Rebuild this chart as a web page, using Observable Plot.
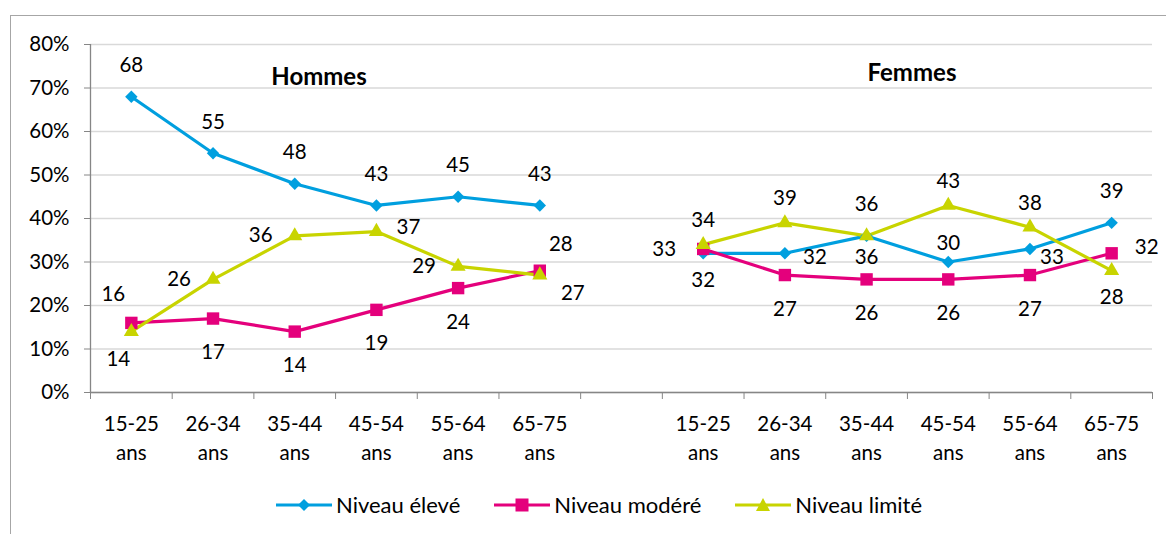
<!DOCTYPE html>
<html><head><meta charset="utf-8">
<script src="https://cdn.jsdelivr.net/npm/d3@7"></script>
<script src="https://cdn.jsdelivr.net/npm/@observablehq/plot@0.6"></script>
<style>
html,body{margin:0;padding:0;background:#fff;overflow:hidden;}
#wrap{position:relative;width:1166px;height:534px;font-family:Lato,"Open Sans",sans-serif;color:#000;}
#frame{position:absolute;left:10px;top:15px;width:1200px;height:600px;border:1px solid #a6a6a6;box-sizing:border-box;}
#chart{position:absolute;left:0;top:0;}
.title{position:absolute;font-weight:bold;font-size:24px;transform:translate(-50%,-50%);white-space:nowrap;}
#legend{position:absolute;top:491px;left:275px;display:flex;align-items:center;font-size:22px;white-space:nowrap;}
#legend .item{display:flex;align-items:center;margin-right:33px;}
#legend svg{display:block;margin-right:3px;}
</style></head>
<body><div id="wrap"><div id="frame"></div><div id="chart"></div>
<div class="title" id="tH"></div><div class="title" id="tF"></div>
<div id="legend"></div></div>
<script>
// ---- data ----
const groups = ["Hommes", "Femmes"];
const ageLabels = ["15-25 ans", "26-34 ans", "35-44 ans", "45-54 ans", "55-64 ans", "65-75 ans"];
const seriesNames = ["Niveau élevé", "Niveau modéré", "Niveau limité"];
const eleveHommes = [68, 55, 48, 43, 45, 43];
const modereHommes = [16, 17, 14, 19, 24, 28];
const limiteHommes = [14, 26, 36, 37, 29, 27];
const eleveFemmes = [32, 32, 36, 30, 33, 39];
const modereFemmes = [33, 27, 26, 26, 27, 32];
const limiteFemmes = [34, 39, 36, 43, 38, 28];
const yTicks = [0, 10, 20, 30, 40, 50, 60, 70, 80];

// ---- styling ----
const colors = {"Niveau élevé": "#009fdf", "Niveau modéré": "#e4007c", "Niveau limité": "#c8d400"};
const symbols = {"Niveau élevé": "diamond2", "Niveau modéré": "square", "Niveau limité": "triangle"};
const symR = {"Niveau élevé": 5.6, "Niveau modéré": 7.0, "Niveau limité": 5.6};
// data-label placement codes (Excel-like)
const offsets = {
  t: [0, -31], t2: [0, -24], t3: [0, -19], b: [0, 34], b2: [0, 27], b3: [0, 22],
  bl: [-13, 28], tl: [-18, -28], tr: [21, -26], l: [-34, 0], l2: [-39, 0],
  r: [32, -4], r2: [30, 4], r3: [22, 8], r4: [35, -6], br: [33, 18]
};
const labelPlacement = {
  Hommes: {
    "Niveau élevé": ["t", "t", "t", "t", "t", "t"],
    "Niveau modéré": ["tl", "b", "b", "b", "b", "tr"],
    "Niveau limité": ["bl", "l", "l", "r", "l", "br"]
  },
  Femmes: {
    "Niveau élevé": ["b2", "r2", "b3", "t3", "r3", "t"],
    "Niveau modéré": ["l2", "b", "b", "b", "b", "r4"],
    "Niveau limité": ["t2", "t2", "t", "t2", "t2", "b2"]
  }
};

const values = {
  Hommes: {"Niveau élevé": eleveHommes, "Niveau modéré": modereHommes, "Niveau limité": limiteHommes},
  Femmes: {"Niveau élevé": eleveFemmes, "Niveau modéré": modereFemmes, "Niveau limité": limiteFemmes}
};
const slotsPerGroup = ageLabels.length + 1; // one empty slot between groups
const nSlots = groups.length * slotsPerGroup - 1;
const data = [];
groups.forEach((g, gi) => {
  seriesNames.forEach(s => {
    values[g][s].forEach((v, i) => {
      data.push({group: g, series: s, age: ageLabels[i], slot: gi * slotsPerGroup + i + 0.5, value: v,
                 key: g + "|" + s, code: labelPlacement[g][s][i]});
    });
  });
});
const centers = [], centerLabel = new Map();
groups.forEach((g, gi) => ageLabels.forEach((a, i) => {
  const c = gi * slotsPerGroup + i + 0.5; centers.push(c); centerLabel.set(c, a.replace(" ", "\n"));
}));

const FS = 20.5;
const marks = [
  Plot.gridY(yTicks, {stroke: "#d9d9d9", strokeOpacity: 1, strokeWidth: 1.3}),
  Plot.axisY(yTicks, {tickFormat: d => d + "%", tickSize: 6, tickPadding: 15, fontSize: FS, stroke: "#868686", label: null}),
  Plot.ruleX([0], {stroke: "#868686", strokeWidth: 1.3}),
  Plot.ruleY([0], {stroke: "#868686", strokeWidth: 1.3}),
  Plot.axisX(d3.range(0, nSlots + 1), {tickSize: 7, tickFormat: () => "", stroke: "#868686", label: null}),
  Plot.axisX(centers, {tickSize: 0, tickPadding: 18, tickFormat: d => centerLabel.get(d), fontSize: FS, lineHeight: 1.41, label: null}),
  Plot.line(data, {x: "slot", y: "value", z: "key", stroke: d => colors[d.series], strokeWidth: 3.2, curve: "linear"})
];
seriesNames.forEach(s => {
  marks.push(Plot.dot(data.filter(d => d.series === s), {x: "slot", y: "value", symbol: () => symbols[s], fill: colors[s], stroke: "none", r: symR[s]}));
});
Object.entries(offsets).forEach(([code, [dx, dy]]) => {
  const sub = data.filter(d => d.code === code);
  if (sub.length) marks.push(Plot.text(sub, {x: "slot", y: "value", text: d => String(d.value), dx, dy, fontSize: FS, fill: "#000"}));
});

const chart = Plot.plot({
  width: 1166, height: 480,
  marginLeft: 90, marginRight: 14, marginTop: 44, marginBottom: 88,
  x: {domain: [0, nSlots], axis: null},
  y: {domain: [0, 80], axis: null},
  style: {fontFamily: "Lato, 'Open Sans', sans-serif", fontSize: FS + "px", background: "transparent", color: "#000"},
  symbol: {type: "identity"},
  marks
});
document.getElementById("chart").appendChild(chart);

// group titles
const tH = document.getElementById("tH"), tF = document.getElementById("tF");
tH.textContent = groups[0]; tH.style.left = "319px"; tH.style.top = "75px";
tF.textContent = groups[1]; tF.style.left = "912px"; tF.style.top = "71px";

// legend
const legend = document.getElementById("legend");
const symPaths = {
  "Niveau élevé": '<path d="M29,4 L35,10 L29,16 L23,10 Z"/>',
  "Niveau modéré": '<rect x="22.5" y="3.5" width="13" height="13"/>',
  "Niveau limité": '<path d="M29,3 L36,16 L22,16 Z"/>'
};
seriesNames.forEach(s => {
  const it = document.createElement("div"); it.className = "item";
  it.innerHTML = `<svg width="58" height="20"><line x1="1" x2="57" y1="10" y2="10" stroke="${colors[s]}" stroke-width="3.2"/><g fill="${colors[s]}">${symPaths[s]}</g></svg><span>${s}</span>`;
  legend.appendChild(it);
});
</script></body></html>
